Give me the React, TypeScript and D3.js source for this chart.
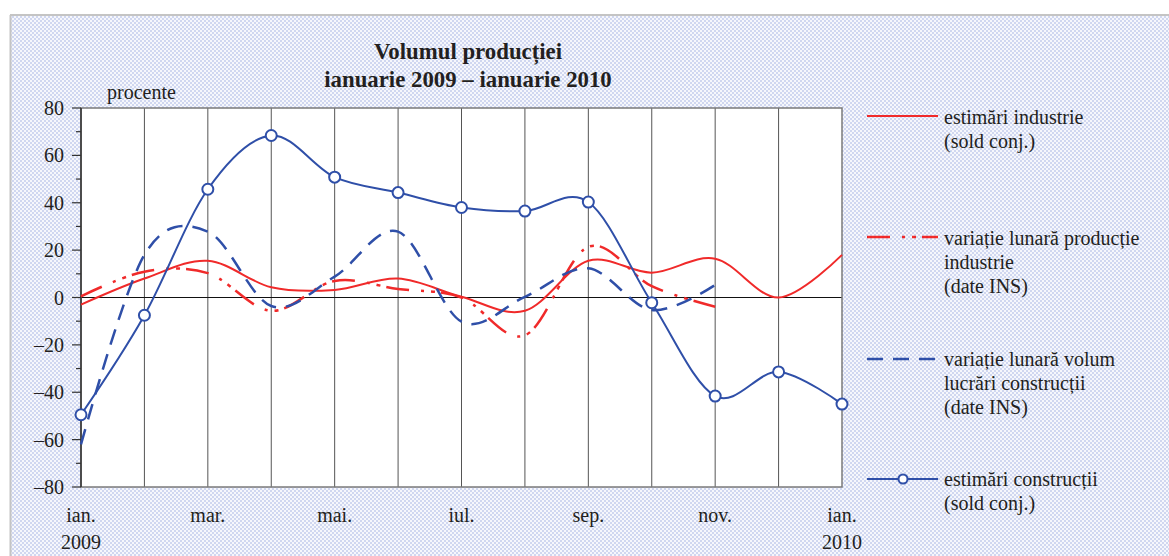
import React from 'react';
import * as d3 from 'd3';

const monthLabels = ['ian.', 'feb.', 'mar.', 'apr.', 'mai.', 'iun.', 'iul.', 'aug.', 'sep.', 'oct.', 'nov.', 'dec.', 'ian.'];
const yearLabels = [{ idx: 0, text: '2009' }, { idx: 12, text: '2010' }];

const estimariIndustrie = [-3, 8, 15.5, 4.3, 3.2, 8, 0.3, -5.6, 15.5, 10.5, 16.4, 0, 18];
const variatieIndustrie = [0.5, 10.9, 10.3, -5.6, 7, 3.6, 0, -16, 21.4, 4.8, -3.9];
const variatieConstructii = [-62, 18, 27.8, -3.6, 8.8, 27.8, -10.2, 0.3, 12.3, -5.3, 5.3];
const estimariConstructii = [-49.5, -7.5, 45.7, 68.4, 50.8, 44.3, 38, 36.5, 40.3, -2.2, -41.6, -31.4, -45];

const yTicks = [80, 60, 40, 20, 0, -20, -40, -60, -80];
const yMinorTicks = [70, 50, 30, 10, -10, -30, -50, -70];

const RED = '#f02a2a';
const BLUE = '#2f4fa8';
const TXT = '#231f20';
const FONT = "'Liberation Serif', 'Times New Roman', Times, serif";

const fmt = (v: number) => (v < 0 ? '\u2013' + Math.abs(v) : String(v));

export default function App() {
  const W = 1169, H = 556;
  const L = 81, R = 842, T = 108, B = 487;
  const x = d3.scaleLinear().domain([0, 12]).range([L, R]);
  const y = d3.scaleLinear().domain([-80, 80]).range([B, T]);
  const curve = d3.curveCatmullRom.alpha(0);
  const line = d3.line<number>().x((_, i) => x(i)).y((d) => y(d)).curve(curve);

  const legend = [
    { y: 116, lines: ['estimări industrie', '(sold conj.)'], color: RED, dash: undefined as string | undefined, marker: false, base: 124 },
    { y: 237, lines: ['variație lunară producție', 'industrie', '(date INS)'], color: RED, dash: '23,12,3,7,4,6', marker: false, base: 245 },
    { y: 359, lines: ['variație lunară volum', 'lucrări construcții', '(date INS)'], color: BLUE, dash: '16,10', marker: false, base: 366 },
    { y: 479, lines: ['estimări construcții', '(sold conj.)'], color: BLUE, dash: undefined, marker: true, base: 486 },
  ];

  const textStyle = { fontFamily: FONT };
  const FS = 20;

  return (
    <svg width={W} height={H} style={{ position: 'absolute', left: 0, top: 0, fontFamily: FONT }}>
      <defs>
        <pattern id="dots" width={4} height={4} patternUnits="userSpaceOnUse">
          <rect width={4} height={4} fill="#f6f7fc" />
          <rect x={0} y={0} width={2} height={2} fill="#d0d7f0" />
          <rect x={2} y={2} width={2} height={2} fill="#d0d7f0" />
        </pattern>
      </defs>
      <rect width={W} height={H} fill="#ffffff" />
      <rect x={11} y={15} width={W - 11} height={H - 15} fill="url(#dots)" />
      <line x1={10} y1={15} x2={W} y2={15} stroke="#c4c4c4" strokeWidth={2} />
      <line x1={10.5} y1={15} x2={10.5} y2={H} stroke="#c4c4c4" strokeWidth={2} />

      {/* title */}
      <text x={468} y={59} textAnchor="middle" fontSize={22.8} fontWeight="bold" fill={TXT} style={textStyle}>Volumul producției</text>
      <text x={468} y={87} textAnchor="middle" fontSize={22.8} fontWeight="bold" fill={TXT} style={textStyle}>ianuarie 2009 – ianuarie 2010</text>
      <text x={107} y={99} fontSize={FS} fill={TXT} style={textStyle}>procente</text>

      {/* plot area */}
      <rect x={L} y={T} width={R - L} height={B - T} fill="#ffffff" />
      {monthLabels.map((_, i) => (i > 0 && i < 12 ? (
        <line key={'g' + i} x1={x(i)} x2={x(i)} y1={T} y2={B} stroke="#555" strokeWidth={1} />
      ) : null))}
      <line x1={L} x2={R} y1={y(0)} y2={y(0)} stroke="#111" strokeWidth={1.2} />
      <rect x={L} y={T} width={R - L} height={B - T} fill="none" stroke="#7a7a7a" strokeWidth={1.5} />
      <line x1={L} x2={L} y1={T} y2={B} stroke="#333" strokeWidth={1.5} />

      {/* y axis ticks */}
      {yTicks.map((t) => (
        <g key={'yt' + t}>
          <line x1={72} x2={L} y1={y(t)} y2={y(t)} stroke="#333" strokeWidth={1.2} />
          <text x={64} y={y(t)} dy="0.35em" textAnchor="end" fontSize={FS} fill={TXT} style={textStyle}>{fmt(t)}</text>
        </g>
      ))}
      {yMinorTicks.map((t) => (
        <line key={'ym' + t} x1={76} x2={L} y1={y(t)} y2={y(t)} stroke="#333" strokeWidth={1.2} />
      ))}

      {/* x labels */}
      {monthLabels.map((m, i) => (i % 2 === 0 ? (
        <text key={'xl' + i} x={x(i)} y={522} textAnchor="middle" fontSize={FS} fill={TXT} style={textStyle}>{m}</text>
      ) : null))}
      {yearLabels.map((yl) => (
        <text key={'yr' + yl.idx} x={x(yl.idx)} y={549} textAnchor="middle" fontSize={FS} fill={TXT} style={textStyle}>{yl.text}</text>
      ))}

      {/* series */}
      <path d={line(estimariIndustrie) || ''} fill="none" stroke={RED} strokeWidth={2} />
      <path d={line(variatieIndustrie) || ''} fill="none" stroke={RED} strokeWidth={2.5} strokeDasharray="23,12,3,7,4,6" />
      <path d={line(variatieConstructii) || ''} fill="none" stroke={BLUE} strokeWidth={2.5} strokeDasharray="16,10" />
      <path d={line(estimariConstructii) || ''} fill="none" stroke={BLUE} strokeWidth={2} />
      {estimariConstructii.map((v, i) => (
        <circle key={'c' + i} cx={x(i)} cy={y(v)} r={5.5} fill="#fff" stroke={BLUE} strokeWidth={2} />
      ))}

      {/* legend */}
      {legend.map((lg, k) => (
        <g key={'lg' + k}>
          <line x1={867} x2={938} y1={lg.y} y2={lg.y} stroke={lg.color} strokeWidth={lg.dash ? 2.5 : 2} strokeDasharray={lg.dash} />
          {lg.marker ? <circle cx={903} cy={lg.y} r={4.5} fill="#fff" stroke={lg.color} strokeWidth={2} /> : null}
          {lg.lines.map((t, j) => (
            <text key={j} x={944} y={lg.base + j * 24} fontSize={FS} fill={TXT} style={textStyle}>{t}</text>
          ))}
        </g>
      ))}
    </svg>
  );
}
